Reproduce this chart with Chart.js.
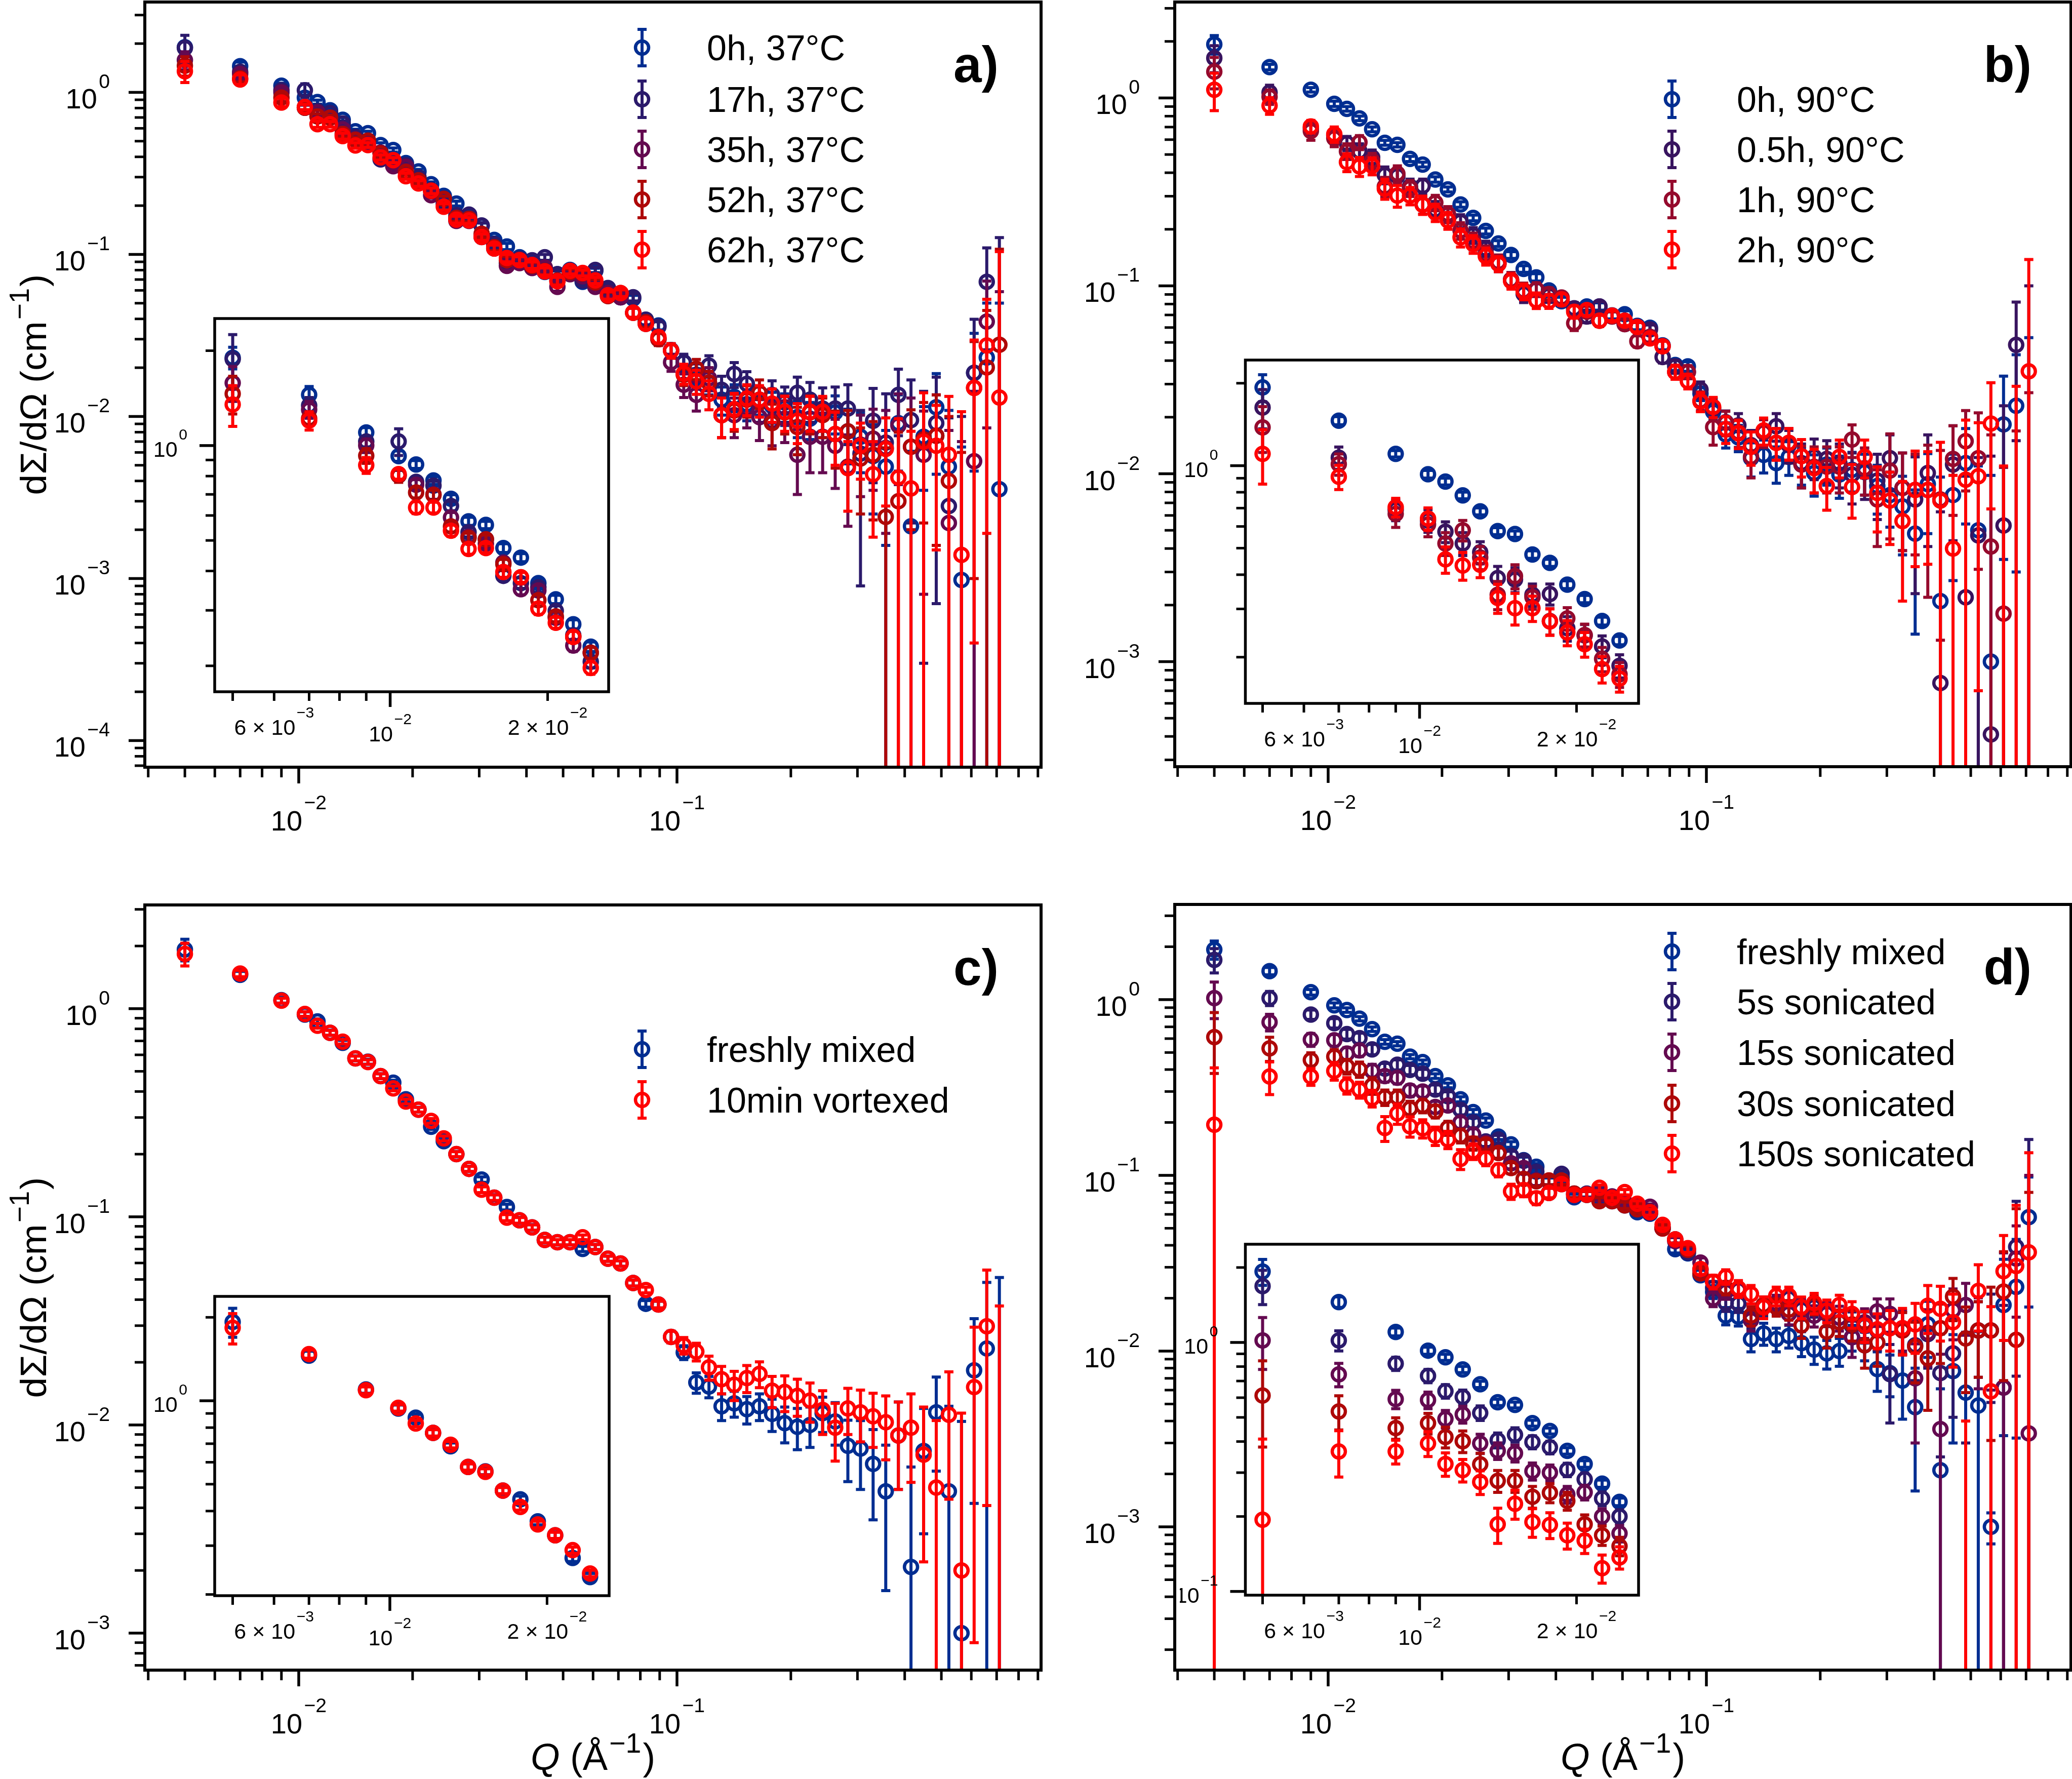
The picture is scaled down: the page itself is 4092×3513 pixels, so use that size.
<!DOCTYPE html>
<html>
<head>
<meta charset="utf-8">
<title>Scattering curves</title>
<script src="https://cdn.jsdelivr.net/npm/chart.js@4/dist/chart.umd.min.js"></script>
<style>
  html, body { margin: 0; padding: 0; background: #fff; }
  #page { position: relative; width: 4092px; height: 3513px; overflow: hidden; }
  canvas { position: absolute; }
</style>
</head>
<body>
<div id="page"></div>
<script>
// Q axis shared by all curves (1/A)
const qValues = [0.0050, 0.0070, 0.0090,
  0.01038, 0.01121, 0.01210, 0.01307, 0.01412, 0.01524, 0.01646, 0.01778, 0.01920, 0.02073, 0.02239, 0.02418,
  0.02611, 0.02820, 0.03045, 0.03288, 0.03551, 0.03835, 0.04141, 0.04472, 0.04829, 0.05215, 0.05632, 0.06082, 0.06568, 0.07093,
  0.07660, 0.08272, 0.08933, 0.09647, 0.1042, 0.1125, 0.1215, 0.1312, 0.1417, 0.1530,
  0.1652, 0.1784, 0.1927, 0.2081, 0.2247, 0.2427, 0.2620, 0.2830, 0.3056, 0.3300,
  0.3564, 0.3849, 0.4156, 0.4488, 0.4847, 0.5234, 0.5652, 0.6104, 0.6592, 0.7118];

// Panel a) intensities (negative = point below zero, only the upper error bar shows)
const a0h = [1.90, 1.45, 1.10,
  .926, .871, .775, .678, .575, .560, .473, .441, .366, .325, .271, .230,
  .206, .171, .150, .123, .112, .096, .090, .078, .0755, .0802, .0678, .0792, .0613, .0544,
  .0534, .0382, .0364, .0257, .0216, .0172, .0161, .0127, .0132, .0119,
  .0127, .0116, .0113, .0099, .0097, .0106, .0106, .0081, .0075, .0057,
  .0049, .0091, .0021, .0075, .0114, .0049, .00098, .0186, .0231, .00356];
const a17h = [1.88, 1.34, 1.03,
  1.03, .767, .746, .643, .531, .504, .386, .366, .355, .299, .250, .206,
  .175, .176, .151, .1157, .0885, .094, .092, .096, .0755, .0778, .0691, .0802, .062, .0544,
  .0544, .0396, .0358, .0255, .0216, .0181, .0206, .0146, .0183, .0159,
  .0122, .0136, .0122, .014, .0127, .0112, .0112, .0112, .0059, .0094,
  .0069, .0136, .0095, .0073, .0091, .0028, -.002, .0186, .0678, -.01];
const a35h = [1.58, 1.30, 1.00,
  .804, .751, .700, .591, .514, .488, .425, .350, .347, .284, .232, .220,
  .161, .161, .128, .1087, .085, .0885, .0825, .083, .0631, .0755, .0733, .0631, .0577, .0544,
  .0437, .0373, .030, .0216, .0157, .0136, .0172, .0102, .0102, .0113,
  .0099, .0094, .0097, .0058, .0075, .0075, .0066, .0049, .0067, .0073,
  .0064, .0088, .0065, .0058, .0076, .0022, -.003, .0053, .0385, -.01];
const a52h = [1.46, 1.22, .928,
  .804, .710, .697, .554, .509, .504, .420, .382, .323, .287, .247, .220,
  .168, .166, .134, .111, .0922, .0922, .085, .079, .0691, .0778, .0763, .0672, .0553, .0577,
  .0437, .0382, .030, .0255, .0181, .0197, .0162, .0102, .0109, .0127,
  .014, .0091, .0106, .0086, .0106, .0102, .0078, .0081, .0055, .0058,
  .0024, .003, .0065, .0072, .0076, .004, -.003, .015, .0201, .0277];
const a62h = [1.35, 1.20, .866,
  .812, .636, .636, .537, .470, .473, .397, .382, .304, .274, .247, .197,
  .164, .162, .128, .1087, .095, .0922, .086, .0785, .0683, .0792, .0769, .0691, .056, .0577,
  .0437, .0373, .0309, .0255, .0184, .0165, .0138, .0102, .0111, .0129,
  .0127, .012, .0107, .0094, .0107, .0107, .0078, .0048, .0066, .0044,
  .0063, .0042, .0036, .007, .0066, .0058, .0014, .015, .0274, .0131];
// Panel a) error bars, in units of 1e-4
const a0hErr = [1500, 900, 400,
  350, 250, 220, 200, 170, 150, 150, 130, 120, 100, 90, 80,
  70, 60, 60, 50, 50, 45, 40, 40, 35, 35, 30, 30, 28, 28,
  25, 25, 22, 22, 22, 25, 25, 25, 25, 25,
  25, 25, 25, 25, 25, 25, 28, 30, 30, 32,
  33, 45, 40, 40, 70, 60, 55, 140, 270, 465];
const a17hErr = [3700, 800, 400,
  1000, 300, 250, 220, 180, 160, 150, 140, 130, 110, 100, 90,
  80, 70, 60, 55, 50, 45, 40, 40, 38, 35, 32, 30, 30, 28,
  28, 28, 26, 26, 26, 30, 31, 31, 32, 30,
  30, 30, 30, 35, 35, 38, 40, 45, 50, 55,
  69, 60, 73, 70, 84, 70, 120, 212, 420, 1370];
const a35hErr = [2000, 800, 500,
  300, 280, 250, 220, 180, 160, 150, 140, 130, 110, 100, 90,
  80, 70, 60, 55, 50, 45, 40, 40, 38, 35, 32, 30, 30, 28,
  28, 28, 26, 26, 26, 28, 28, 28, 28, 28,
  28, 28, 28, 25, 30, 30, 30, 28, 35, 38,
  45, 50, 65, 50, 60, 60, 100, 90, 300, 689];
const a52hErr = [2000, 600, 500,
  400, 280, 250, 220, 180, 160, 150, 140, 130, 110, 100, 90,
  80, 70, 60, 55, 50, 45, 40, 40, 38, 35, 32, 30, 30, 28,
  28, 28, 26, 26, 26, 28, 28, 28, 28, 28,
  28, 28, 28, 28, 28, 28, 30, 28, 30, 35,
  40, 50, 45, 50, 60, 60, 90, 140, 250, 800];
const a62hErr = [2000, 800, 500,
  300, 280, 250, 220, 180, 160, 150, 140, 130, 110, 100, 90,
  80, 70, 60, 55, 50, 45, 40, 40, 38, 35, 32, 30, 30, 28,
  28, 28, 26, 26, 26, 28, 28, 28, 28, 28,
  28, 28, 26, 26, 26, 26, 28, 22, 25, 26,
  35, 55, 45, 70, 51, 75, 93, 146, 255, 910];

// Panel b)
const b0h = [1.93, 1.46, 1.105,
  .931, .875, .779, .681, .577, .563, .474, .442, .368, .326, .271, .230,
  .196, .168, .146, .123, .111, .0945, .0829, .0744, .0777, .0777, .0697, .0706, .0612, .0598,
  .0482, .0379, .0373, .0267, .0214, .0162, .0156, .0121, .0126, .0114,
  .0123, .0112, .0101, .0112, .0099, .0105, .0102, .0086, .0077, .0067,
  .0048, .0088, .0021, .0077, .0114, .005, .001, .0183, .023, -.01];
const b05h = [1.63, 1.07, .690,
  .631, .574, .520, .483, .389, .384, .338, .340, .255, .240, .219, .186,
  .158, .131, .1077, .0905, .0958, .0886, .0847, .076, .0687, .0777, .0687, .0626, .0604, .0586,
  .0418, .0372, .0348, .028, .0222, .0188, .0181, .0142, .0166, .0179,
  .0142, .0114, .0123, .012, .0114, .0099, .0105, .0092, .0121, .0084,
  .0073, .0101, .00077, .0112, .0022, .0047, .00041, .0053, .0485, -.01];
const b1h = [1.38, 1.013, .667,
  .610, .520, .581, .462, .338, .395, .331, .271, .277, .241, .197, .173,
  .148, .134, .1077, .0945, .0958, .0905, .0867, .0633, .0728, .0653, .0687, .0626, .0507, .0536,
  .0477, .0348, .0348, .0245, .0177, .0187, .0166, .0123, .0166, .0146,
  .0146, .0112, .0109, .0109, .0109, .0152, .0107, .0073, .0104, .0084,
  .0082, .0082, .0073, .012, .0149, .0121, .0041, .0018, -.003, -.003];
const b2h = [1.105, .911, .705,
  .641, .455, .432, .435, .329, .302, .302, .270, .246, .223, .181, .167,
  .144, .131, .106, .0933, .0837, .0829, .0847, .0728, .0744, .0653, .0694, .0653, .0604, .0525,
  .0477, .0348, .0311, .0242, .0227, .0173, .0164, .0139, .017, .0146,
  .0146, .0124, .0107, .0086, .0123, .0085, .0123, .0079, .0072, .0056,
  .0082, .0082, .0072, .004, .0093, .0097, .0185, -.003, -.003, .0351];
const b0hErr = [2170, 500, 300,
  300, 250, 220, 200, 170, 150, 150, 130, 120, 100, 90, 80,
  70, 60, 60, 50, 50, 45, 40, 40, 35, 35, 30, 30, 28, 28,
  25, 25, 22, 22, 22, 25, 25, 25, 25, 25,
  25, 25, 25, 25, 25, 25, 25, 25, 25, 30,
  34, 40, 75, 50, 60, 60, 88, 148, 200, 630];
const b05hErr = [2660, 1000, 600,
  600, 500, 500, 450, 400, 400, 320, 300, 260, 230, 200, 180,
  150, 120, 100, 90, 80, 70, 60, 55, 50, 45, 40, 38, 35, 33,
  30, 30, 28, 28, 28, 28, 28, 28, 28, 30,
  28, 30, 30, 30, 30, 30, 32, 35, 40, 45,
  50, 60, 55, 68, 75, 75, 120, 177, 335, 1100];
const b1hErr = [2620, 900, 720,
  600, 500, 500, 450, 400, 400, 320, 300, 260, 230, 200, 180,
  150, 120, 100, 90, 80, 70, 60, 55, 50, 45, 40, 38, 35, 33,
  30, 30, 28, 28, 35, 28, 28, 28, 28, 28,
  28, 28, 30, 30, 30, 30, 30, 32, 59, 45,
  45, 60, 60, 60, 68, 90, 120, 90, 199, 300];
const b2hErr = [2490, 930, 550,
  600, 500, 500, 450, 400, 400, 320, 300, 260, 230, 200, 180,
  150, 120, 100, 90, 80, 70, 60, 55, 50, 45, 40, 38, 35, 33,
  30, 30, 28, 28, 28, 28, 28, 28, 28, 28,
  28, 28, 28, 22, 28, 27, 28, 30, 30, 35,
  50, 49, 75, 58, 100, 90, 120, 140, 322, 1030];

// Panel c)
const cFresh = [1.925, 1.454, 1.099,
  .937, .869, .766, .685, .577, .556, .474, .441, .367, .327, .271, .231,
  .20, .170, .151, .1236, .1114, .0962, .0889, .0774, .0755, .0755, .0701, .0716, .0629, .0597,
  .0481, .0382, .0379, .0265, .0223, .016, .0153, .0123, .0127, .0119,
  .0123, .0113, .0102, .0098, .01, .0114, .0104, .00794, .0077, .0065,
  .0048, .0089, .00208, .0075, .0115, .0048, .001, .0183, .0233, -.01];
const cVortex = [1.833, 1.474, 1.092,
  .943, .828, .766, .694, .577, .554, .474, .414, .358, .327, .289, .238,
  .20, .170, .135, .1236, .0991, .0962, .0889, .0774, .0755, .0755, .0798, .0716, .0629, .0597,
  .0481, .0445, .0379, .0265, .0241, .0225, .0189, .0166, .0156, .0168,
  .0176, .0146, .0144, .0138, .0131, .0118, .0097, .012, .0115, .011,
  .0103, .0089, .0097, .0072, .005, .0112, .002, .0152, .0298, -.02];
const cFreshErr = [2300, 550, 350,
  280, 240, 220, 190, 160, 150, 130, 120, 100, 90, 80, 70,
  60, 50, 45, 40, 35, 32, 28, 25, 22, 22, 20, 20, 18, 18,
  16, 14, 14, 17, 17, 18, 18, 18, 18, 18,
  18, 20, 20, 22, 22, 22, 24, 26, 28, 30,
  32, 40, 42, 45, 55, 75, 94, 141, 251, 611];
const cVortexErr = [2300, 500, 300,
  250, 220, 200, 180, 150, 140, 120, 110, 95, 85, 75, 65,
  55, 48, 42, 38, 33, 30, 26, 24, 22, 22, 20, 20, 18, 18,
  16, 14, 14, 17, 22, 22, 25, 25, 25, 25,
  25, 25, 28, 28, 28, 28, 30, 30, 32, 32,
  35, 40, 44, 50, 55, 68, 94, 143, 257, 573];

// Panel d)
const dFresh = [1.926, 1.453, 1.102,
  .927, .872, .779, .679, .575, .561, .474, .441, .367, .325, .271, .229,
  .205, .166, .15, .122, .112, .0925, .0975, .075, .0778, .0727, .0713, .0675, .0617, .0605,
  .05, .038, .036, .027, .0217, .0159, .0157, .0117, .0126, .0117,
  .0122, .0111, .0102, .0097, .01, .012, .0108, .0079, .0075, .0068,
  .0048, .0142, .0021, .0077, .0058, .0049, .001, .0183, .0232, .0578];
const d5s = [1.684, 1.019, .822,
  .734, .637, .604, .521, .405, .426, .398, .379, .308, .282, .236, .200,
  .156, .16, .129, .121, .105, .0925, .102, .0788, .0788, .0803, .0758, .069, .0652, .0612,
  .05, .0432, .0365, .029, .0229, .0188, .0186, .0155, .0178, .0183,
  .0199, .0172, .0178, .0163, .0146, .0139, .0139, .0131, .0074, .0131,
  .0108, .0125, .0075, .0097, -.003, .0131, .0131, .0062, .0392, -.01];
const d15s = [1.019, .744, .592,
  .587, .493, .514, .393, .367, .359, .304, .300, .245, .250, .200, .171,
  .153, .134, .117, .11, .0935, .0794, .0892, .0775, .0775, .0775, .0758, .0703, .0675, .0663,
  .05, .0422, .0377, .0319, .0199, .0217, .0222, .015, .0183, .0188,
  .0163, .0178, .0159, .0163, .0155, .012, .0146, .0168, .0163, .0135,
  .007, .0127, .0036, .0171, .0183, .0131, -.003, .0062, .0336, .0034];
const d30s = [.612, .528, .453,
  .474, .417, .401, .324, .278, .278, .240, .249, .231, .186, .168, .152,
  .15, .134, .11, .0955, .0925, .0935, .0935, .0788, .0775, .0713, .0713, .0675, .0641, .0617,
  .0498, .0432, .0377, .0277, .0248, .0229, .0227, .0159, .0183, .0178,
  .0172, .014, .0183, .0129, .0146, .0142, .0108, .0112, .0135, .0131,
  .0106, .0091, .0135, .0204, .0118, .0131, .0131, .0218, .0116, -.01];
const d150s = [.194, .365, .365,
  .393, .325, .307, .275, .186, .225, .190, .185, .168, .160, .124, .137,
  .1245, .107, .081, .0825, .0741, .0794, .0892, .0775, .0778, .085, .0746, .0803, .069, .0617,
  .0523, .0432, .0385, .0293, .0248, .0265, .0227, .0211, .0178, .0206,
  .0206, .0178, .0188, .017, .0183, .0163, .014, .0133, .0135, .0135,
  .0142, .0181, .0174, .0146, -.003, .022, .0059, .0285, .0305, .0365];
const dFreshErr = [2300, 700, 400,
  300, 250, 220, 200, 170, 150, 130, 120, 110, 100, 90, 80,
  70, 60, 55, 50, 45, 40, 36, 32, 30, 28, 26, 24, 22, 20,
  20, 18, 18, 18, 18, 18, 18, 18, 18, 18,
  18, 18, 18, 18, 18, 20, 20, 20, 20, 27,
  32, 50, 40, 47, 70, 80, 2, 150, 200, 400];
const d5sErr = [2650, 950, 500,
  450, 400, 400, 350, 280, 280, 240, 220, 190, 170, 150, 130,
  100, 90, 80, 70, 60, 50, 45, 40, 35, 32, 30, 28, 26, 24,
  22, 20, 20, 20, 20, 20, 20, 20, 20, 20,
  22, 22, 22, 25, 25, 28, 28, 30, 35, 35,
  40, 45, 50, 55, 60, 60, 80, 120, 320, 1700];
const d15sErr = [2400, 800, 500,
  450, 400, 400, 350, 280, 280, 240, 220, 190, 170, 150, 130,
  100, 90, 80, 70, 60, 50, 45, 40, 35, 32, 30, 28, 26, 24,
  22, 20, 20, 20, 20, 20, 20, 20, 20, 20,
  22, 22, 22, 25, 25, 28, 28, 30, 35, 35,
  40, 45, 60, 55, 60, 70, 90, 300, 180, 966];
const d30sErr = [2320, 830, 450,
  450, 400, 400, 350, 280, 280, 240, 220, 190, 170, 150, 130,
  100, 90, 80, 70, 60, 50, 45, 40, 35, 32, 30, 28, 26, 24,
  22, 20, 20, 20, 20, 20, 20, 20, 20, 20,
  22, 22, 22, 25, 25, 28, 28, 30, 35, 35,
  40, 45, 50, 55, 60, 60, 100, 150, 530, 900];
const d150sErr = [2150, 770, 400,
  450, 350, 320, 300, 300, 300, 250, 220, 200, 180, 160, 140,
  110, 90, 80, 70, 60, 50, 45, 40, 35, 32, 30, 28, 26, 24,
  22, 20, 20, 20, 22, 25, 25, 25, 25, 25,
  25, 25, 25, 25, 25, 28, 28, 30, 35, 40,
  45, 55, 60, 65, 70, 90, 120, 170, 370, 980];

// Labels, colours, tick labels
const labelsA = ["0h, 37°C", "17h, 37°C", "35h, 37°C", "52h, 37°C", "62h, 37°C"];
const labelsB = ["0h, 90°C", "0.5h, 90°C", "1h, 90°C", "2h, 90°C"];
const labelsC = ["freshly mixed", "10min vortexed"];
const labelsD = ["freshly mixed", "5s sonicated", "15s sonicated", "30s sonicated", "150s sonicated"];
const colors5 = ["#002d91", "#2b1a6b", "#640a50", "#ae0808", "#ff0000"];
const colors4 = ["#002d91", "#38145f", "#950a2d", "#ff0000"];
const colors2 = ["#002d91", "#ff0000"];
const mainXLabels = [0.01, 0.1];
const insetXLabels = [0.006, 0.01, 0.02];
const yLabelsA = [1, 0.1, 0.01, 0.001, 0.0001];
const yLabelsB = [1, 0.1, 0.01, 0.001];
const yLabelsC = [1, 0.1, 0.01, 0.001];
const yLabelsD = [1, 0.1, 0.01, 0.001];
const yAxisTitle = ["d\u03A3/d\u03A9 (cm", "\u22121", ")"];
const xAxisTitle = ["Q", " (\u00C5", "\u22121", ")"];

const FONT = '"Liberation Sans", Arial, sans-serif';
const INSET_POINTS = 15;

// every 1..9 x 10^k between the axis limits
function logTicks(min, max) {
  const out = [];
  for (let k = Math.floor(Math.log10(min)); k <= Math.ceil(Math.log10(max)); k++) {
    for (let m = 1; m < 10; m++) {
      const v = Number(m + "e" + k);
      if (v >= min && v <= max) out.push(v);
    }
  }
  return out;
}
function isDecade(v) {
  return Math.abs(Math.log10(v) - Math.round(Math.log10(v))) < 1e-6;
}

// "10" with raised exponent, optional "m ×" prefix; align is left/center/right of x
function drawPower(ctx, x, y, value, size, align, gapUp) {
  const k = Math.floor(Math.log10(value) + 1e-9);
  const m = Math.round(value / Math.pow(10, k));
  const exp = (k < 0 ? "\u2212" : "") + Math.abs(k);
  const base = (m > 1 ? m + " \u00D7 " : "") + "10";
  const sup = size * 0.7;
  ctx.font = size + "px " + FONT;
  const w1 = ctx.measureText(base).width;
  ctx.font = sup + "px " + FONT;
  const w2 = ctx.measureText(exp).width;
  const total = w1 + w2 + size * 0.06;
  let left = x;
  if (align === "center") left = x - total / 2;
  if (align === "right") left = x - total;
  ctx.textAlign = "left";
  ctx.textBaseline = "alphabetic";
  ctx.fillStyle = "#000";
  ctx.font = size + "px " + FONT;
  ctx.fillText(base, left, y);
  ctx.font = sup + "px " + FONT;
  ctx.fillText(exp, left + w1 + size * 0.06, y - gapUp);
}

function decorPlugin(cfg) {
  return {
    id: "decor",
    beforeDraw(chart) {
      if (!cfg.inset) return;
      const a = chart.chartArea;
      chart.ctx.fillStyle = "#fff";
      chart.ctx.fillRect(a.left, a.top, a.right - a.left, a.bottom - a.top);
    },
    // error bars go right under the markers of their own series
    beforeDatasetDraw(chart, args) {
      const ds = chart.data.datasets[args.index];
      const { ctx, chartArea: a } = chart;
      const xs = chart.scales.x, ys = chart.scales.y;
      ctx.save();
      ctx.beginPath();
      ctx.rect(a.left, a.top, a.right - a.left, a.bottom - a.top);
      ctx.clip();
      ctx.strokeStyle = ds.borderColor;
      ctx.lineCap = "butt";
      ds.rawValues.forEach((v, i) => {
        const err = ds.errs[i] * 1e-4;
        const px = xs.getPixelForValue(qValues[i]);
        const hi = v + err, lo = v - err;
        if (hi <= 0) return;
        const top = ys.getPixelForValue(hi);
        const bottom = lo > 0 ? ys.getPixelForValue(lo) : a.bottom + 10;
        ctx.lineWidth = 6;
        ctx.beginPath();
        ctx.moveTo(px, top);
        ctx.lineTo(px, bottom);
        ctx.stroke();
        ctx.lineWidth = 6;
        ctx.beginPath();
        ctx.moveTo(px - 9, top);
        ctx.lineTo(px + 9, top);
        if (lo > 0) {
          ctx.moveTo(px - 9, bottom);
          ctx.lineTo(px + 9, bottom);
        }
        ctx.stroke();
      });
      ctx.restore();
    },
    afterDraw(chart) {
      const { ctx, chartArea: a } = chart;
      const xs = chart.scales.x, ys = chart.scales.y;
      ctx.save();
      ctx.strokeStyle = "#000";
      ctx.fillStyle = "#000";
      // axes frame
      ctx.lineWidth = cfg.inset ? 5.5 : 6;
      ctx.strokeRect(a.left, a.top, a.right - a.left, a.bottom - a.top);
      const major = cfg.inset ? 30 : 32, minor = cfg.inset ? 18 : 20;
      // x ticks
      xs.ticks.forEach(t => {
        const p = xs.getPixelForValue(t.value);
        const len = isDecade(t.value) ? major : minor;
        ctx.lineWidth = isDecade(t.value) ? 5.5 : 5;
        ctx.beginPath();
        ctx.moveTo(p, a.bottom);
        ctx.lineTo(p, a.bottom + len);
        ctx.stroke();
      });
      // y ticks
      ys.ticks.forEach(t => {
        const p = ys.getPixelForValue(t.value);
        const len = isDecade(t.value) ? major : minor;
        ctx.lineWidth = isDecade(t.value) ? 5.5 : 5;
        ctx.beginPath();
        ctx.moveTo(a.left, p);
        ctx.lineTo(a.left - len, p);
        ctx.stroke();
      });
      // tick labels
      const size = cfg.inset ? 43 : 56;
      const up = cfg.inset ? 34 : 42;
      cfg.xLabels.forEach(v => {
        const p = xs.getPixelForValue(v);
        const off = cfg.inset ? (isDecade(v) ? 98 : 85) : 125;
        drawPower(ctx, p, a.bottom + off, v, size, "center", up);
      });
      cfg.yLabels.forEach(v => {
        if (v < ys.min || v > ys.max) return;
        const p = ys.getPixelForValue(v);
        if (cfg.inset) drawPower(ctx, a.left - 54, p + 22, v, size, "right", 34);
        else drawPower(ctx, a.left - 69, p + 32, v, size, "right", 40);
      });
      // legend
      if (cfg.legend) {
        chart.data.datasets.forEach((ds, i) => {
          const sx = cfg.legend.x - chart.canvas.offsetLeft;
          const sy = cfg.legend.y[i] - chart.canvas.offsetTop;
          ctx.strokeStyle = ds.borderColor;
          ctx.lineWidth = 6;
          ctx.beginPath();
          ctx.moveTo(sx, sy - 36); ctx.lineTo(sx, sy + 36);
          ctx.moveTo(sx - 9, sy - 36); ctx.lineTo(sx + 9, sy - 36);
          ctx.moveTo(sx - 9, sy + 36); ctx.lineTo(sx + 9, sy + 36);
          ctx.stroke();
          ctx.lineWidth = 6.5;
          ctx.beginPath();
          ctx.arc(sx, sy, 13, 0, Math.PI * 2);
          ctx.stroke();
          ctx.fillStyle = "#000";
          ctx.font = "70px " + FONT;
          ctx.textAlign = "left";
          ctx.textBaseline = "alphabetic";
          ctx.fillText(ds.label, sx + 128, sy + 25);
        });
      }
      // panel letter
      if (cfg.letter) {
        ctx.fillStyle = "#000";
        ctx.font = "bold 100px " + FONT;
        ctx.textAlign = "right";
        ctx.textBaseline = "alphabetic";
        ctx.fillText(cfg.letter, a.right - cfg.letterInset, a.top + 158);
      }
      // y axis title
      if (cfg.yTitle) {
        ctx.save();
        ctx.translate(91, (a.top + a.bottom) / 2);
        ctx.rotate(-Math.PI / 2);
        const s = 73, sup = s * 0.75;
        ctx.font = s + "px " + FONT;
        const w1 = ctx.measureText(yAxisTitle[0]).width;
        const w3 = ctx.measureText(yAxisTitle[2]).width;
        ctx.font = sup + "px " + FONT;
        const w2 = ctx.measureText(yAxisTitle[1]).width;
        const x0 = -(w1 + w2 + w3 + 6) / 2;
        ctx.textAlign = "left";
        ctx.font = s + "px " + FONT;
        ctx.fillText(yAxisTitle[0], x0, 0);
        ctx.fillText(yAxisTitle[2], x0 + w1 + w2 + 6, 0);
        ctx.font = sup + "px " + FONT;
        ctx.fillText(yAxisTitle[1], x0 + w1 + 3, -34);
        ctx.restore();
      }
      // x axis title
      if (cfg.xTitle) {
        const s = 74, sup = s * 0.75;
        const cx = (a.left + a.right) / 2, by = cfg.xTitleY - chart.canvas.offsetTop;
        ctx.font = "italic " + s + "px " + FONT;
        const w0 = ctx.measureText(xAxisTitle[0]).width;
        ctx.font = s + "px " + FONT;
        const w1 = ctx.measureText(xAxisTitle[1]).width;
        const w3 = ctx.measureText(xAxisTitle[3]).width;
        ctx.font = sup + "px " + FONT;
        const w2 = ctx.measureText(xAxisTitle[2]).width;
        let x0 = cx - (w0 + w1 + w2 + w3 + 6) / 2;
        ctx.textAlign = "left";
        ctx.fillStyle = "#000";
        ctx.font = "italic " + s + "px " + FONT;
        ctx.fillText(xAxisTitle[0], x0, by);
        x0 += w0;
        ctx.font = s + "px " + FONT;
        ctx.fillText(xAxisTitle[1], x0, by);
        ctx.fillText(xAxisTitle[3], x0 + w1 + w2 + 6, by);
        ctx.font = sup + "px " + FONT;
        ctx.fillText(xAxisTitle[2], x0 + w1 + 3, by - 34);
      }
      ctx.restore();
    }
  };
}

function makeChart(cfg) {
  const canvas = document.createElement("canvas");
  canvas.width = cfg.box[2];
  canvas.height = cfg.box[3];
  canvas.style.left = cfg.box[0] + "px";
  canvas.style.top = cfg.box[1] + "px";
  document.getElementById("page").appendChild(canvas);
  const count = cfg.inset ? INSET_POINTS : qValues.length;
  const datasets = cfg.series.map((s, i) => ({
    label: cfg.labels[i],
    data: s.values.slice(0, count).map((v, j) => ({ x: qValues[j], y: v > 0 ? v : null })),
    rawValues: s.values.slice(0, count),
    errs: s.errs,
    borderColor: cfg.colors[i],
    backgroundColor: "rgba(0,0,0,0)",
    borderWidth: 6.5,
    pointRadius: 13,
    pointHoverRadius: 13,
    showLine: false,
    clip: 20,
    order: -i
  }));
  const axis = (lim) => ({
    type: "logarithmic",
    min: lim[0],
    max: lim[1],
    ticks: { display: false },
    grid: { display: false, drawTicks: false },
    border: { display: false },
    afterBuildTicks(scale) {
      scale.ticks = logTicks(lim[0], lim[1]).map(value => ({ value }));
    }
  });
  return new Chart(canvas, {
    type: "scatter",
    data: { datasets },
    options: {
      responsive: false,
      animation: false,
      devicePixelRatio: 1,
      events: [],
      layout: {
        autoPadding: false,
        padding: {
          left: cfg.area[0] - cfg.box[0],
          top: cfg.area[2] - cfg.box[1],
          right: cfg.box[0] + cfg.box[2] - cfg.area[1],
          bottom: cfg.box[1] + cfg.box[3] - cfg.area[3]
        }
      },
      scales: { x: axis(cfg.xlim), y: axis(cfg.ylim) },
      plugins: { legend: { display: false }, tooltip: { enabled: false } }
    },
    plugins: [decorPlugin(cfg)]
  });
}

const pair = (values, errs) => ({ values, errs });
const seriesA = [pair(a0h, a0hErr), pair(a17h, a17hErr), pair(a35h, a35hErr), pair(a52h, a52hErr), pair(a62h, a62hErr)];
const seriesB = [pair(b0h, b0hErr), pair(b05h, b05hErr), pair(b1h, b1hErr), pair(b2h, b2hErr)];
const seriesC = [pair(cFresh, cFreshErr), pair(cVortex, cVortexErr)];
const seriesD = [pair(dFresh, dFreshErr), pair(d5s, d5sErr), pair(d15s, d15sErr), pair(d30s, d30sErr), pair(d150s, d150sErr)];

// main panels: box = canvas [x, y, w, h], area = plot [left, right, top, bottom]
makeChart({ box: [0, 0, 2100, 1720], area: [286, 2056, 4, 1515], xlim: [0.003918, 0.9174], ylim: [6.85e-5, 3.61],
  series: seriesA, labels: labelsA, colors: colors5, xLabels: mainXLabels, yLabels: yLabelsA, letter: "a)", letterInset: 84,
  yTitle: true, legend: { x: 1268, y: [94, 196, 295, 394, 493] } });
makeChart({ box: [2100, 0, 1992, 1720], area: [2320, 4090, 4, 1514], xlim: [0.00393, 0.9203], ylim: [2.76e-4, 3.24],
  series: seriesB, labels: labelsB, colors: colors4, xLabels: mainXLabels, yLabels: yLabelsB, letter: "b)", letterInset: 78,
  legend: { x: 3302, y: [196, 295, 394, 493] } });
makeChart({ box: [0, 1720, 2100, 1793], area: [286, 2056, 1787, 3298], xlim: [0.003918, 0.9174], ylim: [6.64e-4, 3.15],
  series: seriesC, labels: labelsC, colors: colors2, xLabels: mainXLabels, yLabels: yLabelsC, letter: "c)", letterInset: 84,
  yTitle: true, xTitle: true, xTitleY: 3495, legend: { x: 1268, y: [2072, 2172] } });
makeChart({ box: [2100, 1720, 1992, 1793], area: [2320, 4090, 1786, 3298], xlim: [0.00393, 0.9203], ylim: [1.53e-4, 3.48],
  series: seriesD, labels: labelsD, colors: colors5, xLabels: mainXLabels, yLabels: yLabelsD, letter: "d)", letterInset: 78,
  xTitle: true, xTitleY: 3495, legend: { x: 3302, y: [1879, 1978, 2078, 2179, 2278] } });

// insets repeat the low-Q end of the same curves
makeChart({ box: [300, 600, 930, 880], area: [424, 1202, 629, 1366], xlim: [0.004619, 0.02616], ylim: [0.1655, 2.53], inset: true,
  series: seriesA, labels: labelsA, colors: colors5, xLabels: insetXLabels, yLabels: [1] });
makeChart({ box: [2330, 680, 930, 830], area: [2459.5, 3236, 711, 1389], xlim: [0.004634, 0.0263], ylim: [0.1356, 2.43], inset: true,
  series: seriesB, labels: labelsB, colors: colors4, xLabels: insetXLabels, yLabels: [1] });
makeChart({ box: [300, 2530, 930, 740], area: [424, 1203, 2560, 3151], xlim: [0.004619, 0.0263], ylim: [0.198, 2.38], inset: true,
  series: seriesC, labels: labelsC, colors: colors2, xLabels: insetXLabels, yLabels: [1] });
makeChart({ box: [2330, 2430, 930, 840], area: [2459.5, 3236, 2457, 3150], xlim: [0.004634, 0.0263], ylim: [0.0966, 2.48], inset: true,
  series: seriesD, labels: labelsD, colors: colors5, xLabels: insetXLabels, yLabels: [1, 0.1] });
</script>
</body>
</html>
